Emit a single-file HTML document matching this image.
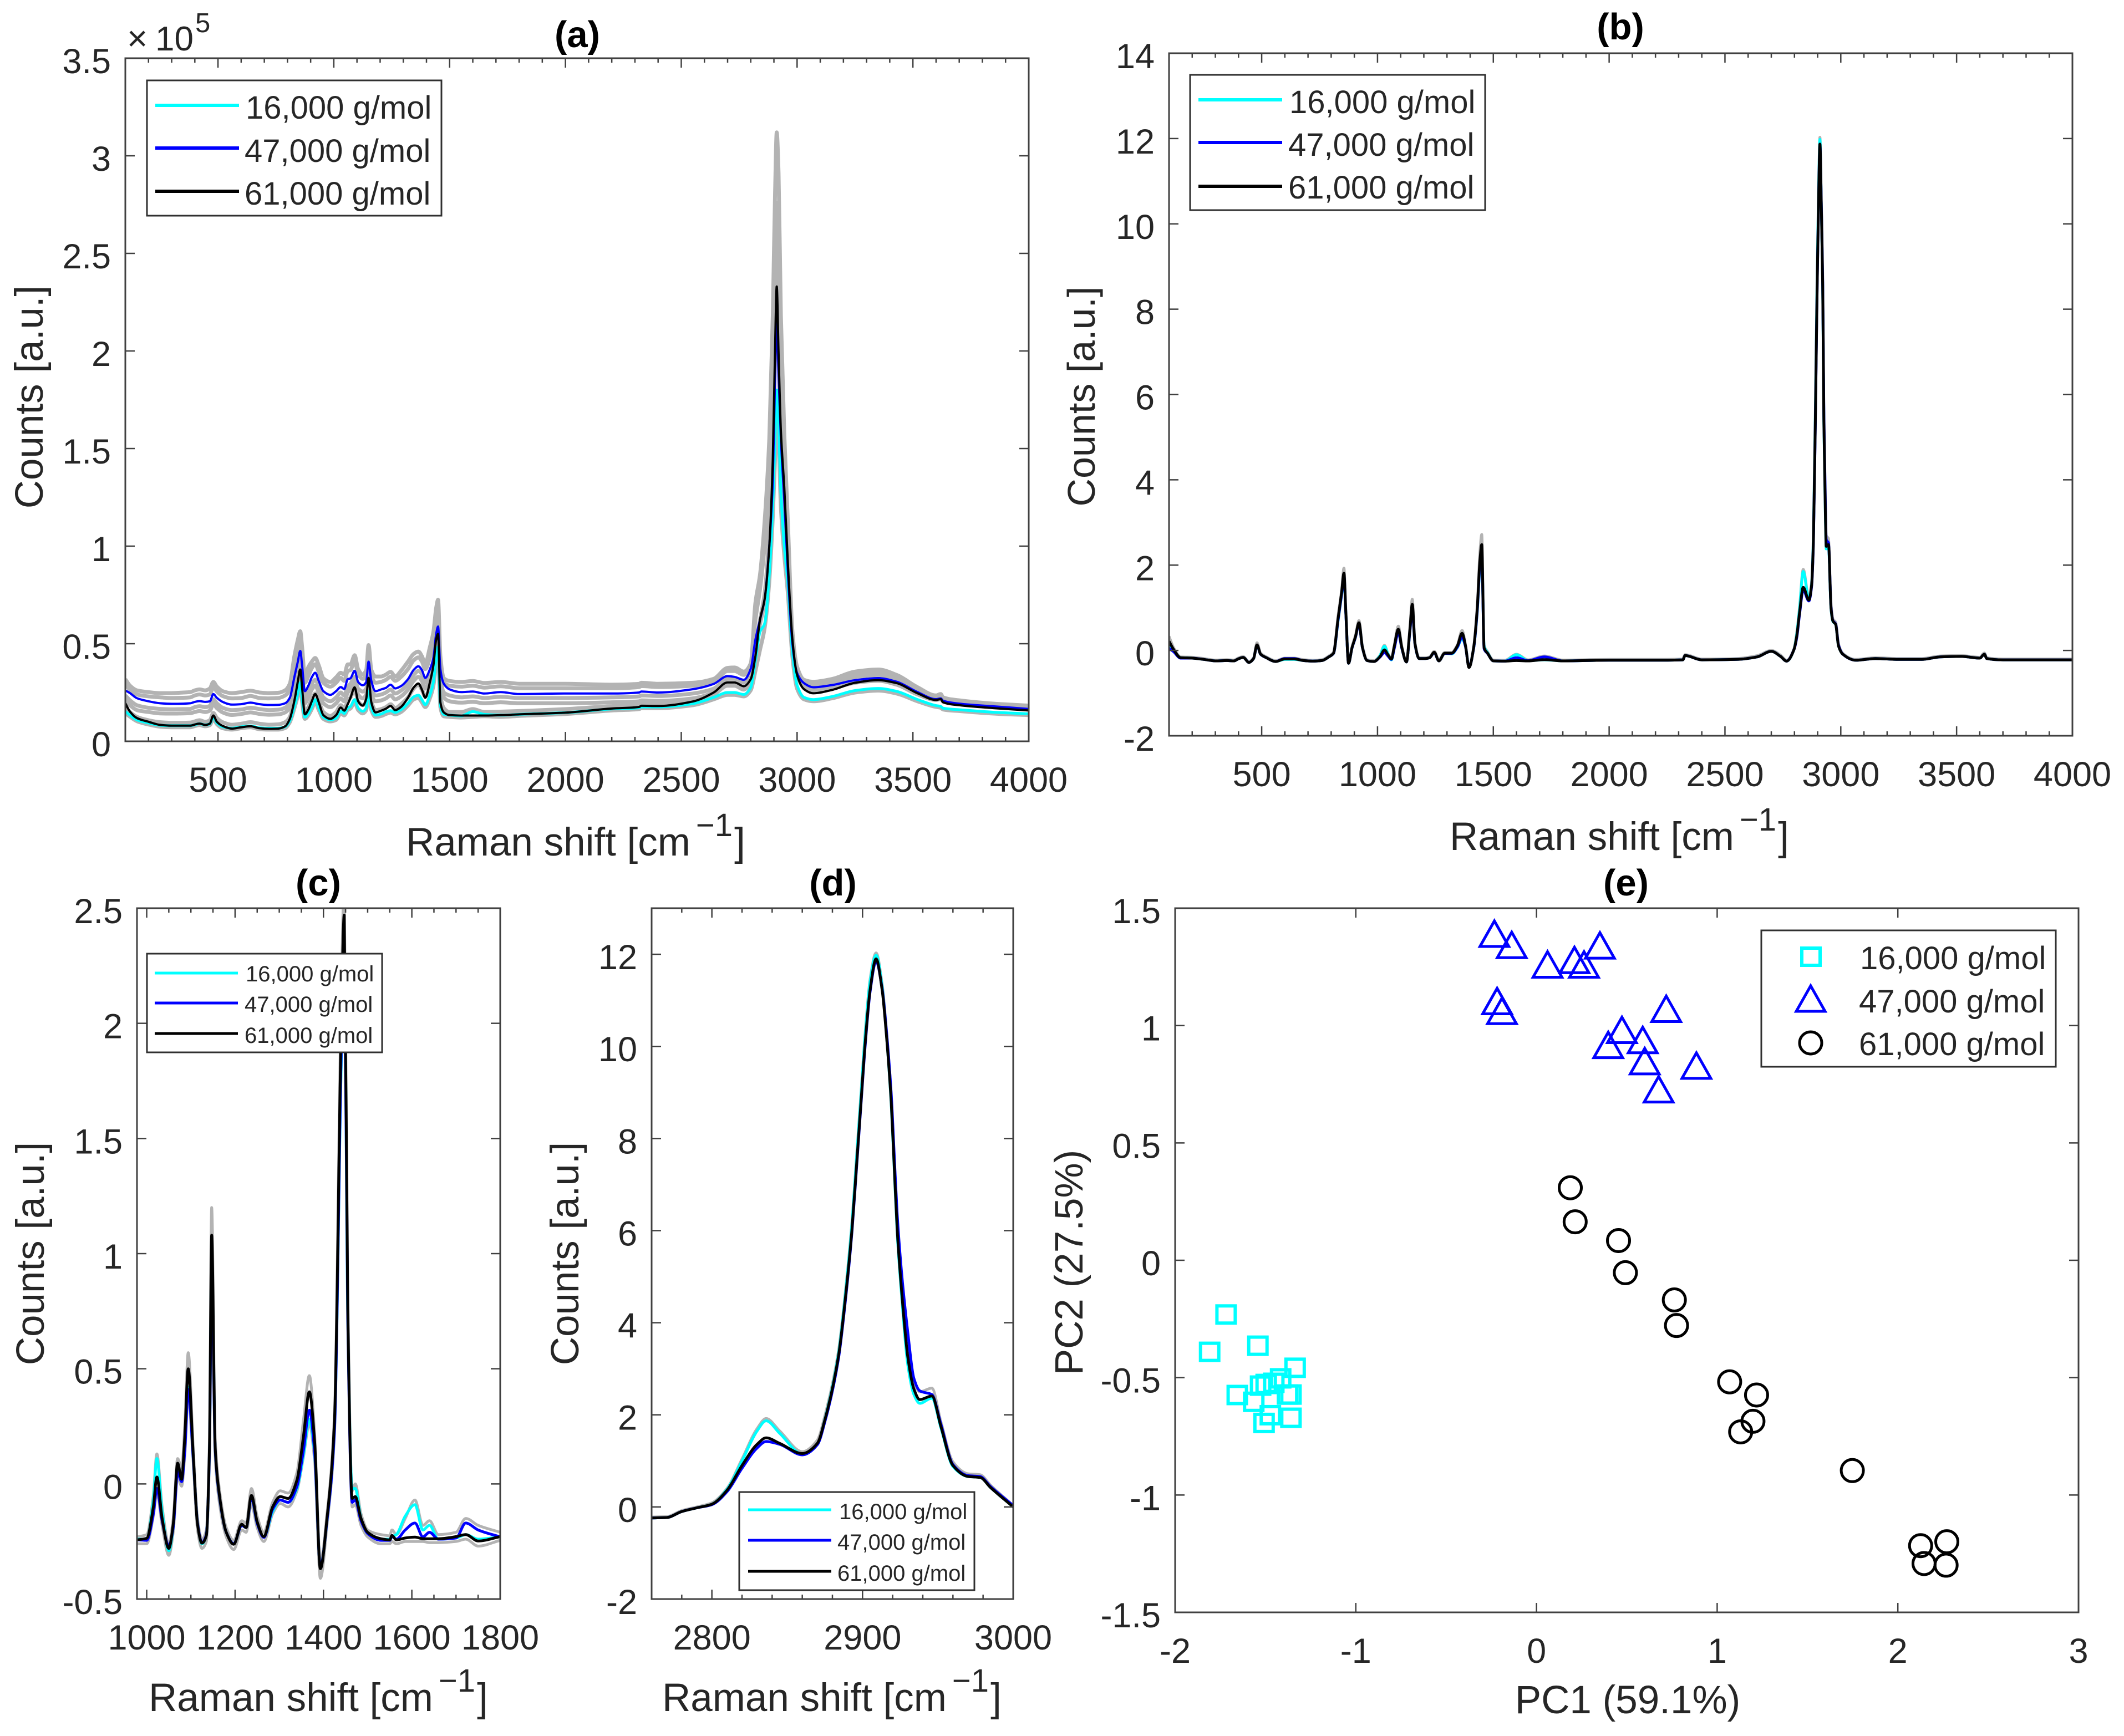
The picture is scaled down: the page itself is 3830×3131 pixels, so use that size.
<!DOCTYPE html>
<html lang="en">
<head>
<meta charset="utf-8">
<title>Raman spectra and PCA by molecular weight</title>
<style>
html,body{margin:0;padding:0;background:#fff;}
svg{display:block;}
text{font-family:"Liberation Sans",Arial,sans-serif;fill:#262626;}
.title{font-weight:bold;font-size:67px;fill:#000;text-anchor:middle;}
.lab{font-size:71px;}
.ylab{font-size:71px;text-anchor:middle;}
.sup{font-size:58px;}
.leg-big{font-size:58px;}
.leg-small{font-size:40px;}
.frame{fill:#fff;stroke:#303030;stroke-width:3;}
</style>
</head>
<body>
<svg id="figure" xmlns="http://www.w3.org/2000/svg" width="3830" height="3131" viewBox="0 0 3830 3131">
<rect x="0" y="0" width="3830" height="3131" fill="#fff"/>
<defs>
<clipPath id="clip-a"><rect x="226" y="105" width="1629" height="1232"/></clipPath>
<clipPath id="clip-b"><rect x="2108" y="96" width="1629" height="1231"/></clipPath>
<clipPath id="clip-c"><rect x="247" y="1638" width="655" height="1246"/></clipPath>
<clipPath id="clip-d"><rect x="1175" y="1638" width="652" height="1246"/></clipPath>
</defs>
<g id="panel-a"></g>
<g id="panel-b"></g>
<g id="panel-c"></g>
<g id="panel-d"></g>
<g id="panel-e"></g>

<g>
<text class="title" x="1041" y="85">(a)</text>
<text class="title" x="2922" y="71">(b)</text>
<text class="title" x="574" y="1615">(c)</text>
<text class="title" x="1502" y="1615">(d)</text>
<text class="title" x="2932" y="1615">(e)</text>

<g>
<text x="229" y="91" font-size="64" fill="#555">×</text>
<text x="280" y="91" font-size="62">10</text>
<text x="352" y="58" font-size="49">5</text>
</g>

<text class="lab" x="732" y="1543">Raman shift [cm<tspan class="sup" dx="10" dy="-35">−1</tspan><tspan dx="3" dy="35">]</tspan></text>
<text class="lab" x="2614" y="1533">Raman shift [cm<tspan class="sup" dx="10" dy="-35">−1</tspan><tspan dx="3" dy="35">]</tspan></text>
<text class="lab" x="268" y="3086">Raman shift [cm<tspan class="sup" dx="10" dy="-35">−1</tspan><tspan dx="3" dy="35">]</tspan></text>
<text class="lab" x="1194" y="3086">Raman shift [cm<tspan class="sup" dx="10" dy="-35">−1</tspan><tspan dx="3" dy="35">]</tspan></text>
<text class="lab" x="2935" y="3090" text-anchor="middle">PC1 (59.1%)</text>

<text class="ylab" transform="translate(77,716) rotate(-90)">Counts [a.u.]</text>
<text class="ylab" style="font-size:70px" transform="translate(1974,715) rotate(-90)">Counts [a.u.]</text>
<text class="ylab" transform="translate(79,2261) rotate(-90)">Counts [a.u.]</text>
<text class="ylab" transform="translate(1043,2261) rotate(-90)">Counts [a.u.]</text>
<text class="ylab" transform="translate(1952,2277) rotate(-90)">PC2 (27.5%)</text>
</g>

<g>
<rect class="frame" x="265" y="145" width="531" height="244"/>
<line x1="280" x2="431" y1="190" y2="190" stroke="#00ffff" stroke-width="6"/>
<line x1="280" x2="431" y1="267" y2="267" stroke="#0000ff" stroke-width="6"/>
<line x1="280" x2="431" y1="345" y2="345" stroke="#000" stroke-width="6"/>
<text class="leg-big" x="443" y="214">16,000 g/mol</text>
<text class="leg-big" x="441" y="292">47,000 g/mol</text>
<text class="leg-big" x="441" y="369">61,000 g/mol</text>
</g>

<g>
<rect class="frame" x="2146" y="135" width="532" height="244"/>
<line x1="2161" x2="2312" y1="180" y2="180" stroke="#00ffff" stroke-width="6"/>
<line x1="2161" x2="2312" y1="257" y2="257" stroke="#0000ff" stroke-width="6"/>
<line x1="2161" x2="2312" y1="336" y2="336" stroke="#000" stroke-width="6"/>
<text class="leg-big" x="2325" y="204">16,000 g/mol</text>
<text class="leg-big" x="2323" y="281">47,000 g/mol</text>
<text class="leg-big" x="2323" y="358">61,000 g/mol</text>
</g>

<g>
<rect class="frame" x="265" y="1720" width="424" height="178"/>
<line x1="279" x2="429" y1="1755" y2="1755" stroke="#00ffff" stroke-width="5"/>
<line x1="279" x2="429" y1="1809" y2="1809" stroke="#0000ff" stroke-width="5"/>
<line x1="279" x2="429" y1="1864" y2="1864" stroke="#000" stroke-width="5"/>
<text class="leg-small" x="443" y="1770">16,000 g/mol</text>
<text class="leg-small" x="441" y="1825">47,000 g/mol</text>
<text class="leg-small" x="441" y="1881">61,000 g/mol</text>
</g>

<g>
<rect class="frame" x="1333" y="2691" width="424" height="177"/>
<line x1="1349" x2="1499" y1="2723" y2="2723" stroke="#00ffff" stroke-width="5"/>
<line x1="1349" x2="1499" y1="2778" y2="2778" stroke="#0000ff" stroke-width="5"/>
<line x1="1349" x2="1499" y1="2834" y2="2834" stroke="#000" stroke-width="5"/>
<text class="leg-small" x="1513" y="2740">16,000 g/mol</text>
<text class="leg-small" x="1510" y="2795">47,000 g/mol</text>
<text class="leg-small" x="1510" y="2851">61,000 g/mol</text>
</g>

<g>
<rect class="frame" x="3176" y="1678" width="531" height="246"/>
<rect x="3249" y="1710" width="33" height="31" fill="none" stroke="#00ffff" stroke-width="6"/>
<polygon points="3265,1778 3291,1824 3239,1824" fill="none" stroke="#0000ff" stroke-width="5"/>
<circle cx="3265" cy="1881" r="20" fill="none" stroke="#000" stroke-width="5"/>
<text class="leg-big" x="3354" y="1748">16,000 g/mol</text>
<text class="leg-big" x="3352" y="1826">47,000 g/mol</text>
<text class="leg-big" x="3352" y="1903">61,000 g/mol</text>
</g>
</svg>

<script>
// ---------- Panel (a): raw-count wavenumber categories ----------
const wavenumbers = [
100,120,150,200,250,300,350,380,400,420,
445,465,480,495,520,560,600,640,680,720,
760,790,810,830,845,855,863,875,890,905,
920,935,955,985,1010,1030,1045,1060,1072,1090,
1105,1125,1140,1150,1162,1180,1205,1225,1245,1265,
1290,1320,1345,1365,1380,1395,1415,1430,1442,1450,
1460,1475,1500,1550,1600,1650,1720,1800,2000,2200,
2318,2328,2400,2550,2640,2700,2730,2770,2800,2820,
2840,2860,2880,2895,2905,2912,2920,2930,2945,2960,
2980,3000,3030,3070,3150,3250,3350,3430,3520,3600,
3620,3630,3700,3850,4000];

// Panel (a), counts in units of 1e5
const rawMean47k = [
.261,.247,.221,.205,.195,.192,.193,.195,.202,.206,
.202,.205,.242,.223,.202,.188,.19,.198,.19,.186,
.187,.195,.223,.33,.41,.463,.39,.257,.285,.328,
.351,.309,.257,.238,.257,.278,.268,.318,.323,.361,
.304,.287,.304,.408,.309,.257,.266,.274,.29,.271,
.283,.318,.366,.384,.366,.325,.37,.427,.55,.588,
.37,.295,.266,.252,.255,.245,.252,.242,.245,.245,
.25,.255,.25,.267,.294,.334,.33,.315,.372,.519,
.624,.729,1.0,1.338,1.86,2.15,1.88,1.55,1.23,.876,
.498,.35,.298,.277,.288,.313,.324,.305,.252,.216,
.22,.208,.193,.179,.166];
const rawMean61k = [
.195,.152,.119,.10,.084,.08,.08,.08,.086,.091,
.084,.091,.132,.10,.079,.065,.072,.077,.067,.064,
.065,.077,.115,.209,.309,.368,.276,.138,.162,.205,
.242,.2,.134,.115,.134,.173,.157,.19,.223,.276,
.205,.183,.219,.325,.2,.148,.157,.167,.181,.16,
.176,.223,.276,.296,.266,.223,.304,.389,.522,.55,
.2,.148,.134,.132,.132,.132,.134,.138,.147,.168,
.176,.182,.181,.204,.25,.302,.302,.282,.319,.435,
.624,.729,1.0,1.443,2.01,2.33,1.99,1.59,1.296,.918,
.519,.34,.267,.246,.263,.3,.313,.298,.246,.212,
.216,.2,.185,.17,.158];
const rawMean16k = [
.153,.134,.11,.094,.082,.08,.08,.08,.085,.09,
.084,.09,.125,.095,.075,.067,.074,.079,.069,.067,
.067,.075,.105,.18,.247,.3,.219,.124,.143,.176,
.214,.171,.124,.11,.119,.154,.143,.171,.179,.214,
.171,.154,.171,.257,.171,.134,.14,.152,.157,.148,
.162,.195,.228,.236,.214,.188,.238,.304,.427,.484,
.186,.138,.134,.13,.152,.138,.134,.138,.147,.166,
.172,.176,.176,.193,.225,.25,.25,.24,.277,.414,
.561,.603,.855,1.21,1.55,1.8,1.63,1.275,1.0,.813,
.456,.288,.225,.214,.229,.26,.271,.256,.214,.183,
.179,.17,.162,.149,.141];
const rawGrey1 = [
.318,.285,.261,.252,.247,.247,.25,.252,.261,.266,
.261,.271,.304,.28,.257,.247,.252,.259,.25,.247,
.249,.261,.295,.437,.522,.564,.484,.332,.38,.408,
.427,.389,.323,.304,.328,.351,.342,.394,.394,.441,
.37,.342,.366,.493,.366,.332,.332,.342,.356,.332,
.361,.408,.448,.46,.437,.399,.484,.56,.683,.725,
.437,.323,.309,.304,.309,.299,.304,.295,.295,.29,
.295,.30,.295,.30,.32,.376,.378,.357,.40,.708,
.855,1.128,1.55,2.18,2.81,3.12,2.91,2.18,1.57,1.13,
.56,.382,.315,.305,.319,.357,.368,.34,.277,.235,
.242,.225,.21,.193,.183];
const rawGrey2 = [
.29,.265,.24,.23,.225,.222,.223,.225,.235,.24,
.235,.24,.278,.255,.232,.22,.222,.232,.222,.22,
.222,.235,.265,.39,.47,.52,.44,.3,.335,.375,
.395,.355,.3,.28,.3,.325,.31,.36,.365,.41,
.345,.32,.34,.46,.34,.3,.305,.315,.33,.31,
.33,.37,.415,.43,.41,.37,.43,.5,.63,.67,
.41,.3,.285,.28,.285,.275,.282,.272,.272,.272,
.278,.283,.278,.285,.305,.36,.36,.34,.385,.62,
.78,1.0,1.3,1.85,2.45,2.76,2.5,1.9,1.42,1.02,
.53,.365,.305,.29,.305,.34,.352,.33,.265,.228,
.232,.218,.203,.187,.175];
const rawGrey3 = [
.235,.21,.185,.172,.166,.164,.165,.166,.175,.18,
.175,.182,.215,.195,.172,.16,.163,.172,.165,.16,
.162,.172,.2,.305,.37,.42,.35,.225,.255,.295,
.315,.28,.225,.205,.225,.25,.235,.28,.295,.33,
.27,.255,.27,.37,.27,.235,.24,.25,.265,.245,
.26,.295,.34,.36,.345,.3,.35,.41,.52,.56,
.34,.25,.235,.225,.23,.222,.228,.222,.222,.225,
.23,.235,.232,.245,.27,.32,.32,.3,.345,.48,
.62,.74,1.05,1.55,2.1,2.45,2.1,1.65,1.3,.93,
.5,.35,.285,.265,.28,.31,.32,.3,.25,.218,
.222,.21,.195,.18,.168];
const rawGrey4 = [
.21,.185,.16,.15,.143,.142,.143,.144,.15,.155,
.15,.157,.19,.17,.148,.135,.14,.148,.14,.136,
.138,.148,.175,.275,.335,.385,.32,.195,.225,.265,
.285,.25,.195,.175,.195,.22,.205,.25,.265,.3,
.24,.22,.24,.335,.24,.205,.21,.22,.235,.215,
.23,.265,.31,.33,.31,.27,.32,.38,.49,.53,
.3,.225,.205,.198,.202,.195,.2,.195,.195,.2,
.205,.21,.207,.22,.25,.295,.295,.275,.32,.46,
.6,.72,1.0,1.48,2.0,2.3,2.0,1.58,1.25,.9,
.49,.34,.275,.255,.27,.3,.31,.29,.24,.212,
.216,.204,.19,.176,.164];
const rawGrey5 = [
.175,.15,.125,.108,.098,.095,.095,.096,.102,.108,
.1,.108,.145,.12,.098,.085,.09,.098,.09,.085,
.087,.098,.125,.22,.28,.33,.26,.15,.175,.215,
.245,.205,.15,.13,.15,.185,.17,.205,.225,.265,
.205,.185,.205,.29,.205,.16,.165,.175,.19,.17,
.19,.225,.27,.29,.265,.23,.28,.35,.47,.52,
.24,.17,.15,.15,.165,.15,.152,.155,.165,.18,
.186,.192,.19,.21,.24,.285,.285,.265,.31,.45,
.62,.76,1.08,1.7,2.3,2.55,2.3,1.75,1.35,.97,
.51,.36,.3,.275,.29,.33,.34,.32,.26,.222,
.226,.212,.197,.182,.17];
const rawGrey6 = [
.145,.126,.103,.086,.075,.072,.072,.072,.078,.083,
.077,.083,.115,.088,.067,.06,.067,.072,.062,.06,
.06,.068,.098,.17,.235,.285,.205,.115,.133,.165,
.2,.16,.115,.102,.11,.143,.133,.16,.168,.2,
.16,.143,.16,.24,.16,.125,.13,.14,.147,.138,
.15,.183,.215,.222,.2,.175,.222,.285,.4,.45,
.175,.128,.125,.122,.125,.128,.125,.13,.14,.158,
.165,.17,.17,.185,.215,.238,.238,.23,.262,.36,
.47,.58,.82,1.15,1.45,1.7,1.55,1.2,.95,.76,
.43,.27,.215,.205,.22,.25,.26,.245,.205,.176,
.172,.163,.155,.142,.134];

// Panel (b), normalised counts with finer sampling of the C-H band
const normShift = [
100,120,150,200,250,300,350,380,400,420,
445,465,480,495,520,560,600,640,680,720,
760,790,810,830,845,855,863,875,890,905,
920,935,955,985,1010,1030,1045,1060,1072,1090,
1105,1125,1140,1150,1162,1180,1205,1225,1245,1265,
1290,1320,1345,1365,1380,1395,1415,1430,1442,1450,
1460,1475,1500,1550,1600,1650,1720,1800,2000,2200,
2318,2328,2400,2550,2640,2700,2740,2766,2798,2810,
2822,2838,2862,2874,2882,2890,2898,2904,2910,2916,
2922,2927,2934,2937,2947,2958,2966,2978,2990,3009,
3065,3150,3250,3350,3430,3520,3600,3620,3630,3700,
3850,4000];
const normMean61k = [
.215,.02,-.17,-.18,-.21,-.245,-.237,-.245,-.194,-.164,
-.28,-.19,.13,-.086,-.17,-.26,-.2,-.2,-.237,-.25,
-.237,-.15,-.065,.754,1.358,1.81,.927,-.30,.065,.323,
.647,.065,-.237,-.26,-.15,.013,-.1,-.2,.086,.496,
.065,-.27,.5,1.08,.15,-.19,-.19,-.17,-.043,-.245,
-.065,-.065,.108,.40,.108,-.40,.065,.93,2.09,2.48,
.065,-.065,-.245,-.25,-.237,-.245,-.215,-.245,-.23,-.23,
-.22,-.12,-.22,-.21,-.15,-.02,-.14,-.25,.02,.34,
.89,1.48,1.18,1.53,2.61,5.36,8.55,10.5,11.87,10.4,
8.55,5.36,3.07,2.44,2.48,.98,.69,.61,.11,-.09,
-.23,-.19,-.21,-.21,-.15,-.14,-.18,-.09,-.19,-.22,
-.22,-.22];
const normMean47k = [
.05,-.03,-.18,-.18,-.21,-.245,-.237,-.245,-.194,-.164,
-.28,-.19,.12,-.09,-.17,-.26,-.19,-.19,-.237,-.25,
-.237,-.15,-.07,.72,1.32,1.78,.9,-.30,.06,.31,
.62,.06,-.237,-.26,-.16,-.05,-.13,-.21,.04,.42,
.05,-.27,.46,.97,.14,-.19,-.19,-.17,-.05,-.245,
-.07,-.07,.08,.32,.09,-.39,.05,.88,2.0,2.35,
.04,-.07,-.245,-.25,-.17,-.24,-.15,-.245,-.23,-.23,
-.22,-.12,-.22,-.21,-.15,-.02,-.14,-.25,.02,.3,
.85,1.42,1.16,1.5,2.55,5.3,8.5,10.45,11.85,10.45,
8.65,5.5,3.3,2.6,2.52,1.0,.7,.62,.13,-.09,
-.23,-.19,-.21,-.21,-.15,-.14,-.18,-.09,-.19,-.22,
-.22,-.22];
const normMean16k = [
.1,0,-.17,-.18,-.21,-.245,-.237,-.245,-.194,-.164,
-.28,-.19,.12,-.09,-.17,-.26,-.21,-.21,-.237,-.25,
-.237,-.15,-.07,.7,1.3,1.75,.9,-.30,.06,.31,
.63,.06,-.237,-.26,-.13,.1,-.08,-.22,.05,.42,
.05,-.27,.46,1.0,.14,-.19,-.19,-.17,-.05,-.245,
-.07,-.08,.07,.28,.09,-.39,.05,.86,1.95,2.3,
.1,-.05,-.245,-.25,-.1,-.24,-.22,-.245,-.23,-.23,
-.22,-.12,-.22,-.21,-.15,-.02,-.14,-.25,.02,.38,
.98,1.85,1.2,1.55,2.7,5.5,8.75,10.7,11.98,10.4,
8.5,5.3,3.0,2.38,2.4,.95,.68,.61,.11,-.09,
-.23,-.19,-.21,-.21,-.15,-.14,-.18,-.09,-.19,-.22,
-.22,-.22];
const normGreyTop = [
.33,.06,-.15,-.16,-.19,-.225,-.217,-.225,-.175,-.145,
-.26,-.17,.18,-.06,-.15,-.24,-.18,-.18,-.217,-.23,
-.217,-.13,-.04,.82,1.42,1.93,1.0,-.27,.09,.36,
.7,.1,-.217,-.24,-.12,.12,-.07,-.18,.11,.57,
.1,-.25,.55,1.2,.18,-.17,-.17,-.15,-.02,-.225,
-.045,-.045,.13,.47,.13,-.38,.09,1.0,2.3,2.72,
.12,-.03,-.225,-.23,-.09,-.22,-.13,-.225,-.21,-.21,
-.2,-.1,-.2,-.19,-.12,0,-.11,-.23,.04,.42,
1.02,1.9,1.24,1.6,2.8,5.6,8.85,10.8,12.03,10.55,
8.8,5.6,3.4,2.7,2.62,1.08,.74,.66,.16,-.07,
-.21,-.17,-.19,-.19,-.13,-.12,-.16,-.06,-.17,-.2,
-.2,-.2];

// Panel (c), fingerprint region
const fingerprintShift = [
978,1000,1015,1023,1035,1050,1060,1070,
1079,1086,1094,1105,1115,1125,1135,1142,
1147,1155,1165,1180,1197,1215,1225,1237,
1250,1265,1285,1302,1320,1340,1355,1368,
1380,1393,1408,1425,1440,1447,1455,1465,
1472,1485,1500,1530,1550,1555,1565,1585,
1607,1625,1640,1660,1700,1722,1750,1800];
const fingerprint61k = [
-.243,-.236,-.10,.03,-.15,-.28,-.175,.09,
.02,.2,.5,.137,-.175,-.257,-.224,.16,
1.08,.16,-.055,-.21,-.262,-.175,-.19,-.05,
-.164,-.229,-.10,-.055,-.063,.017,.21,.40,
.185,-.368,-.15,.28,1.966,2.47,.76,-.063,
-.055,-.15,-.21,-.238,-.243,-.224,-.243,-.235,
-.231,-.238,-.238,-.238,-.229,-.22,-.248,-.229];
const fingerprint47k = [
-.243,-.245,-.13,-.02,-.16,-.27,-.19,.05,
.01,.14,.41,.12,-.17,-.255,-.22,.14,
.95,.15,-.06,-.21,-.26,-.18,-.19,-.06,
-.17,-.232,-.11,-.07,-.08,-.01,.15,.32,
.14,-.36,-.16,.24,1.85,2.35,.72,-.08,
-.07,-.16,-.215,-.245,-.245,-.228,-.24,-.2,
-.17,-.23,-.21,-.24,-.235,-.17,-.2,-.23];
const fingerprint16k = [
-.24,-.24,-.07,.11,-.12,-.29,-.19,.07,
.03,.15,.42,.12,-.17,-.26,-.22,.14,
1.0,.15,-.06,-.21,-.26,-.18,-.19,-.06,
-.17,-.23,-.12,-.07,-.08,-.02,.13,.28,
.13,-.36,-.16,.24,1.8,2.3,.72,-.02,
-.02,-.15,-.215,-.24,-.24,-.23,-.22,-.14,
-.09,-.2,-.18,-.24,-.235,-.22,-.24,-.23];
const fingerprintGreyTop = [
-.23,-.22,-.05,.13,-.1,-.26,-.15,.11,
.07,.25,.57,.17,-.15,-.24,-.2,.2,
1.2,.2,-.03,-.19,-.245,-.16,-.17,-.02,
-.14,-.21,-.08,-.03,-.04,.05,.28,.47,
.22,-.34,-.13,.31,2.1,2.6,.85,-.03,
0,-.13,-.2,-.22,-.225,-.2,-.22,-.15,
-.07,-.18,-.16,-.22,-.21,-.15,-.18,-.21];
const fingerprintGreyBottom = [
-.26,-.26,-.14,-.04,-.18,-.31,-.21,.03,
-.01,.12,.38,.1,-.2,-.28,-.25,.11,
.9,.12,-.09,-.23,-.285,-.2,-.21,-.09,
-.19,-.25,-.13,-.085,-.1,-.03,.12,.26,
.1,-.41,-.18,.22,1.8,2.25,.7,-.1,
-.09,-.18,-.23,-.26,-.26,-.25,-.26,-.25,
-.25,-.25,-.255,-.255,-.25,-.24,-.27,-.245];

// Panel (d), C-H stretching region
const stretchShift = [
2760,2770,2780,2790,2800,2810,2820,2830,2836,2845,
2860,2870,2875,2884,2889,2893,2896,2899,2902,2905,
2909,2913,2916,2919,2921,2923,2926,2930,2934,2938,
2946,2952,2960,2970,2978,2985,3000];
const stretch61k = [
-.24,-.23,-.1,-.02,.06,.36,.9,1.36,1.5,1.38,
1.16,1.38,1.89,3.27,4.66,6.03,7.41,8.8,10.18,11.22,
11.9,11.22,10.18,8.8,7.41,6.03,4.66,3.27,2.57,2.33,
2.41,1.75,.9,.66,.64,.42,0];
const stretch47k = [
-.24,-.23,-.1,-.02,.05,.33,.84,1.28,1.42,1.36,
1.13,1.35,1.85,3.22,4.6,5.98,7.36,8.75,10.12,11.18,
11.85,11.25,10.28,8.98,7.65,6.35,5.05,3.8,2.8,2.52,
2.44,1.8,.92,.68,.66,.44,.03];
const stretch16k = [
-.24,-.23,-.1,-.02,.06,.38,1.0,1.65,1.87,1.6,
1.15,1.36,1.9,3.32,4.75,6.15,7.55,8.95,10.35,11.4,
11.98,11.3,10.2,8.75,7.35,5.95,4.55,3.1,2.45,2.25,
2.36,1.72,.88,.66,.64,.42,0];
const stretchGrey = [
-.22,-.21,-.08,0,.09,.4,1.04,1.7,1.92,1.65,
1.2,1.45,1.98,3.38,4.8,6.2,7.6,9.0,10.4,11.45,
12.03,11.35,10.3,8.95,7.6,6.3,5.0,3.6,2.75,2.5,
2.58,1.85,.98,.72,.7,.47,.03];

// Panel (e), PCA scores
const pc1Low = [-1.718,-1.809,-1.542,-1.336,-1.416,-1.454,-1.496,-1.527,-1.656,-1.565,-1.378,-1.359,-1.473,-1.508,-1.359];
const pc2Low = [-.231,-.390,-.364,-.458,-.503,-.522,-.527,-.534,-.574,-.603,-.572,-.572,-.660,-.693,-.671];
const pc1Mid = [-.233,-.137,.061,.210,.263,.351,-.218,-.191,.718,.473,.397,.588,.599,.885,.676];
const pc2Mid = [1.389,1.341,1.258,1.277,1.258,1.339,1.102,1.060,1.069,.979,.915,.936,.846,.827,.726];
const pc1High = [.187,.214,.454,.492,.763,.775,1.069,1.218,1.198,1.130,1.748,2.126,2.271,2.145,2.267];
const pc2High = [.309,.164,.084,-.053,-.169,-.278,-.518,-.574,-.686,-.731,-.896,-1.216,-1.199,-1.292,-1.299];

// Tick labels
const ticksWideX = [500,1000,1500,2000,2500,3000,3500,4000];
const ticksAY = ['0','0.5','1','1.5','2','2.5','3','3.5'];
const ticksBY = ['-2','0','2','4','6','8','10','12','14'];
const ticksCX = [1000,1200,1400,1600,1800];
const ticksCY = ['-0.5','0','0.5','1','1.5','2','2.5'];
const ticksDX = [2800,2900,3000];
const ticksDY = ['-2','0','2','4','6','8','10','12'];
const ticksEX = ['-2','-1','0','1','2','3'];
const ticksEY = ['-1.5','-1','-0.5','0','0.5','1','1.5'];

const SVGNS = 'http://www.w3.org/2000/svg';
const AXIS_COLOR = '#404040';
const GREY = '#b3b3b3';

function linear(d0, d1, r0, r1) {
  return function (v) { return r0 + (v - d0) * (r1 - r0) / (d1 - d0); };
}

// Monotone cubic path through the data, so peaks stay at their values.
function curvePath(xs, ys, sx, sy) {
  const px = xs.map(sx), py = ys.map(sy), n = px.length;
  const m = [], t = [];
  for (let i = 0; i < n - 1; i++) m.push((py[i + 1] - py[i]) / (px[i + 1] - px[i]));
  t[0] = m[0];
  t[n - 1] = m[n - 2];
  for (let i = 1; i < n - 1; i++) {
    if (m[i - 1] * m[i] <= 0) { t[i] = 0; }
    else {
      const h0 = px[i] - px[i - 1], h1 = px[i + 1] - px[i];
      t[i] = 3 * (h0 + h1) / ((2 * h1 + h0) / m[i - 1] + (h1 + 2 * h0) / m[i]);
    }
  }
  let d = 'M' + px[0].toFixed(1) + ' ' + py[0].toFixed(1);
  for (let i = 0; i < n - 1; i++) {
    const h = (px[i + 1] - px[i]) / 3;
    d += 'C' + (px[i] + h).toFixed(1) + ' ' + (py[i] + t[i] * h).toFixed(1) + ' ' +
         (px[i + 1] - h).toFixed(1) + ' ' + (py[i + 1] - t[i + 1] * h).toFixed(1) + ' ' +
         px[i + 1].toFixed(1) + ' ' + py[i + 1].toFixed(1);
  }
  return d;
}

function drawCurve(parent, xs, ys, sx, sy, color, width, name) {
  const el = document.createElementNS(SVGNS, 'path');
  
  
  el.setAttribute('d', curvePath(xs, ys, sx, sy));
  el.setAttribute('fill', 'none');
  el.setAttribute('stroke', color);
  el.setAttribute('stroke-width', width);
  el.setAttribute('stroke-linejoin', 'round');
  parent.appendChild(el);
}

function drawSeg(parent, x1, y1, x2, y2, name) {
  const el = document.createElementNS(SVGNS, 'line');
  
  
  el.setAttribute('x1', x1);
  el.setAttribute('y1', y1);
  el.setAttribute('x2', x2);
  el.setAttribute('y2', y2);
  el.setAttribute('stroke', AXIS_COLOR);
  el.setAttribute('stroke-width', 2.5);
  parent.appendChild(el);
}

function drawLabel(parent, x, y, str, anchor, name) {
  const el = document.createElementNS(SVGNS, 'text');
  
  
  el.setAttribute('x', x);
  el.setAttribute('y', y);
  el.setAttribute('font-size', 63);
  el.setAttribute('text-anchor', anchor);
  el.textContent = str;
  parent.appendChild(el);
}

// Draws frame, major and minor ticks and tick labels.
function drawAxes(parent, box, sx, sy, xTicks, yTicks, minorFrom, minorTo, minorStep) {
  const frame = document.createElementNS(SVGNS, 'rect');
  
  
  frame.setAttribute('x', box.l);
  frame.setAttribute('y', box.t);
  frame.setAttribute('width', box.r - box.l);
  frame.setAttribute('height', box.b - box.t);
  frame.setAttribute('fill', 'none');
  frame.setAttribute('stroke', AXIS_COLOR);
  frame.setAttribute('stroke-width', 3);
  parent.appendChild(frame);
  const majorLen = 17, minorLen = 8;
  xTicks.forEach(function (v) {
    const x = sx(+v);
    drawSeg(parent, x, box.b, x, box.b - majorLen, 'x-tick');
    drawSeg(parent, x, box.t, x, box.t + majorLen, 'x-tick-top');
    drawLabel(parent, x, box.b + 91, String(v), 'middle', 'x-tick-label');
  });
  yTicks.forEach(function (v) {
    const y = sy(+v);
    drawSeg(parent, box.l, y, box.l + majorLen, y, 'y-tick');
    drawSeg(parent, box.r, y, box.r - majorLen, y, 'y-tick-right');
    drawLabel(parent, box.l - 26, y + 27, String(v), 'end', 'y-tick-label');
  });
  if (minorStep) {
    for (let v = minorFrom; v <= minorTo; v += minorStep) {
      if (xTicks.indexOf(v) >= 0) continue;
      const x = sx(v);
      drawSeg(parent, x, box.b, x, box.b - minorLen, 'x-minor-tick');
      drawSeg(parent, x, box.t, x, box.t + minorLen, 'x-minor-tick-top');
    }
  }
}

function clippedGroup(parent, clipId) {
  const el = document.createElementNS(SVGNS, 'g');
  
  
  if (clipId) el.setAttribute('clip-path', 'url(#' + clipId + ')');
  parent.appendChild(el);
  return el;
}

// Panel (a)
(function () {
  const box = {l: 226, r: 1855, t: 105, b: 1337};
  const sx = linear(100, 4000, box.l, box.r), sy = linear(0, 3.5, box.b, box.t);
  const root = document.getElementById('panel-a');
  const area = clippedGroup(root, 'clip-a');
  drawCurve(area, wavenumbers, rawGrey1, sx, sy, GREY, 7, 'grey-spectrum-1');
  drawCurve(area, wavenumbers, rawGrey2, sx, sy, GREY, 7, 'grey-spectrum-2');
  drawCurve(area, wavenumbers, rawGrey3, sx, sy, GREY, 7, 'grey-spectrum-3');
  drawCurve(area, wavenumbers, rawGrey4, sx, sy, GREY, 7, 'grey-spectrum-4');
  drawCurve(area, wavenumbers, rawGrey5, sx, sy, GREY, 7, 'grey-spectrum-5');
  drawCurve(area, wavenumbers, rawGrey6, sx, sy, GREY, 7, 'grey-spectrum-6');
  drawCurve(area, wavenumbers, rawMean16k, sx, sy, '#00ffff', 5, 'mean-16000');
  drawCurve(area, wavenumbers, rawMean47k, sx, sy, '#0000ff', 4, 'mean-47000');
  drawCurve(area, wavenumbers, rawMean61k, sx, sy, '#000000', 4, 'mean-61000');
  drawAxes(root, box, sx, sy, ticksWideX, ticksAY, 200, 3900, 100);
})();

// Panel (b)
(function () {
  const box = {l: 2108, r: 3737, t: 96, b: 1327};
  const sx = linear(100, 4000, box.l, box.r), sy = linear(-2, 14, box.b, box.t);
  const root = document.getElementById('panel-b');
  const area = clippedGroup(root, 'clip-b');
  drawCurve(area, normShift, normGreyTop, sx, sy, GREY, 5, 'grey-spectrum');
  drawCurve(area, normShift, normMean16k, sx, sy, '#00ffff', 5, 'mean-16000');
  drawCurve(area, normShift, normMean47k, sx, sy, '#0000ff', 5, 'mean-47000');
  drawCurve(area, normShift, normMean61k, sx, sy, '#000000', 5, 'mean-61000');
  drawAxes(root, box, sx, sy, ticksWideX, ticksBY, 200, 3900, 100);
})();

// Panel (c)
(function () {
  const box = {l: 247, r: 902, t: 1638, b: 2884};
  const sx = linear(978, 1800, box.l, box.r), sy = linear(-.5, 2.5, box.b, box.t);
  const root = document.getElementById('panel-c');
  const area = clippedGroup(root, 'clip-c');
  drawCurve(area, fingerprintShift, fingerprintGreyTop, sx, sy, GREY, 5, 'grey-spectrum-top');
  drawCurve(area, fingerprintShift, fingerprintGreyBottom, sx, sy, GREY, 5, 'grey-spectrum-bottom');
  drawCurve(area, fingerprintShift, fingerprint16k, sx, sy, '#00ffff', 5, 'mean-16000');
  drawCurve(area, fingerprintShift, fingerprint47k, sx, sy, '#0000ff', 5, 'mean-47000');
  drawCurve(area, fingerprintShift, fingerprint61k, sx, sy, '#000000', 5, 'mean-61000');
  drawAxes(root, box, sx, sy, ticksCX, ticksCY, 1000, 1800, 50);
})();

// Panel (d)
(function () {
  const box = {l: 1175, r: 1827, t: 1638, b: 2884};
  const sx = linear(2760, 3000, box.l, box.r), sy = linear(-2, 13, box.b, box.t);
  const root = document.getElementById('panel-d');
  const area = clippedGroup(root, 'clip-d');
  drawCurve(area, stretchShift, stretchGrey, sx, sy, GREY, 5, 'grey-spectrum');
  drawCurve(area, stretchShift, stretch16k, sx, sy, '#00ffff', 5, 'mean-16000');
  drawCurve(area, stretchShift, stretch47k, sx, sy, '#0000ff', 5, 'mean-47000');
  drawCurve(area, stretchShift, stretch61k, sx, sy, '#000000', 5, 'mean-61000');
  drawAxes(root, box, sx, sy, ticksDX, ticksDY, 2780, 2980, 20);
})();

// Panel (e)
(function () {
  const box = {l: 2119, r: 3748, t: 1638, b: 2908};
  const sx = linear(-2, 3, box.l, box.r), sy = linear(-1.5, 1.5, box.b, box.t);
  const root = document.getElementById('panel-e');
  pc1Low.forEach(function (v, i) {
    const el = document.createElementNS(SVGNS, 'rect');
    
    
    el.setAttribute('x', sx(v) - 16.5);
    el.setAttribute('y', sy(pc2Low[i]) - 15.5);
    el.setAttribute('width', 33);
    el.setAttribute('height', 31);
    el.setAttribute('fill', 'none');
    el.setAttribute('stroke', '#00ffff');
    el.setAttribute('stroke-width', 6);
    root.appendChild(el);
  });
  pc1Mid.forEach(function (v, i) {
    const cx = sx(v), cy = sy(pc2Mid[i]);
    const el = document.createElementNS(SVGNS, 'polygon');
    
    
    el.setAttribute('points', cx + ',' + (cy - 24) + ' ' + (cx + 26) + ',' + (cy + 22) + ' ' + (cx - 26) + ',' + (cy + 22));
    el.setAttribute('fill', 'none');
    el.setAttribute('stroke', '#0000ff');
    el.setAttribute('stroke-width', 5);
    root.appendChild(el);
  });
  pc1High.forEach(function (v, i) {
    const el = document.createElementNS(SVGNS, 'circle');
    
    
    el.setAttribute('cx', sx(v));
    el.setAttribute('cy', sy(pc2High[i]));
    el.setAttribute('r', 20);
    el.setAttribute('fill', 'none');
    el.setAttribute('stroke', '#000');
    el.setAttribute('stroke-width', 5);
    root.appendChild(el);
  });
  drawAxes(root, box, sx, sy, ticksEX, ticksEY, 0, 0, 0);
})();
</script>
</body>
</html>
